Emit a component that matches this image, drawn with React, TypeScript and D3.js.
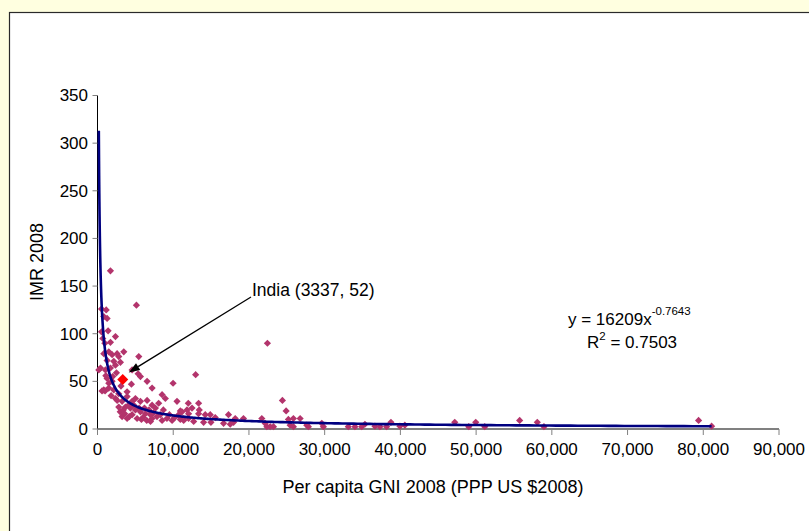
import React from "react";
import * as d3 from "d3";

const GNI = [
  175, 400, 530, 530, 830, 830, 830, 970, 1050, 1150, 1270, 1270, 1270, 1400, 1490, 1490, 1490,
  1710, 1710, 1710, 1930, 1930, 2150, 2150, 2370, 2370, 2370, 2590, 2810, 2810, 3030,
  600, 700, 1000, 1100, 1800, 2000, 2500, 2800, 3100,
  3250, 3250, 3470, 3690, 3910, 3910, 3910, 4350, 4480, 4570, 4570, 4570, 5010, 5010, 5140, 5230,
  5360, 5450, 5670, 5670, 5670, 6330, 6550, 6550, 6990, 7210, 7210, 7650, 8080, 8530, 8960, 9980,
  7210, 7860, 8530, 9170, 9850, 10500, 11160, 11820, 12480, 10720, 11380, 12030,
  2600, 3000, 3400, 3600, 4100, 4200, 4800, 5500, 5800, 6000, 6200, 6500, 6800, 7000, 7400, 8300, 8700, 9500, 10200,
  10940, 10940, 11380, 11990, 12030, 12700, 12960, 13350, 13350, 13440, 14010, 14230, 14890, 14980,
  15550, 16650, 17300, 17530, 17970, 18190, 19280, 21700, 22140, 22370, 22440, 22800, 23240,
  24420, 24910, 25210, 25440, 25870, 25870, 26760, 27640, 27850, 29620, 29830,
  33120, 34000, 34890, 35320, 36640, 37300, 38180, 38750, 39940, 40590,
  47180, 49030, 49950, 51140, 55750, 58080, 58960, 79380, 81100,
];

const IMR = [
  62, 64, 126, 102, 118, 79, 41, 90, 62, 125, 116, 72, 53, 103, 81, 48, 43,
  166, 91, 64, 78, 50, 71, 41, 97, 67, 32, 79, 76, 23, 70,
  40, 95, 40, 56, 35, 55, 59, 37, 45,
  29, 13, 81, 23, 39, 34, 11, 22, 47, 62, 29, 15, 32, 20, 130, 11,
  58, 76, 55, 29, 18, 16, 50, 30, 15, 43, 25, 22, 27, 36, 32, 48,
  11, 13, 9, 11, 9, 29, 18, 20, 22, 15, 11, 11,
  30, 18, 20, 16, 25, 13, 25, 22, 10, 12, 22, 9, 20, 8, 17, 15, 20, 15, 12,
  19, 10, 9, 27, 16, 8, 57, 27, 16, 20, 7, 15, 15, 7,
  12, 6, 15, 5, 7, 11, 11, 11, 6, 2.4, 90, 2.4, 2.4,
  30, 19, 10, 4, 11, 2.4, 11, 4, 2.4, 6, 2.4,
  2.4, 2.4, 2.4, 5, 3, 2.4, 2.4, 7, 3, 4,
  7, 2.4, 7, 2.4, 9, 7, 2.4, 9, 3,
];

const INDIA_GNI = 3337;
const INDIA_IMR = 52;
const INDIA_LABEL = "India (3337, 52)";

const TREND_A = 16209;
const TREND_B = -0.7643;
const TREND_R2 = 0.7503;

const X_TICKS = [0, 10000, 20000, 30000, 40000, 50000, 60000, 70000, 80000, 90000];
const Y_TICKS = [0, 50, 100, 150, 200, 250, 300, 350];

const X_TITLE = "Per capita GNI 2008 (PPP US $2008)";
const Y_TITLE = "IMR 2008";

const FONT = "'Liberation Sans', Arial, Helvetica, sans-serif";

export default function App() {
  const W = 809;
  const H = 531;
  const x = d3.scaleLinear().domain([0, 90000]).range([97.5, 779]);
  const y = d3.scaleLinear().domain([0, 350]).range([429, 95.5]);

  const xmin = d3.min(GNI) as number;
  const xmax = d3.max(GNI) as number;
  const trendXs = d3.range(0, 401).map((i) => xmin * Math.pow(xmax / xmin, i / 400));
  const line = d3
    .line<number>()
    .x((d) => x(d))
    .y((d) => y(TREND_A * Math.pow(d, TREND_B)));

  const diamond = (cx: number, cy: number, r: number) =>
    `M${cx},${cy - r}L${cx + r},${cy}L${cx},${cy + r}L${cx - r},${cy}Z`;

  const ix = x(INDIA_GNI);
  const iy = y(INDIA_IMR);

  // arrow
  const ax1 = 251, ay1 = 297;
  const ax2 = ix + 6, ay2 = iy - 7;
  const ang = Math.atan2(ay2 - ay1, ax2 - ax1);
  const hl = 11, hw = 4;
  const bx = ax2 - hl * Math.cos(ang);
  const by = ay2 - hl * Math.sin(ang);
  const head = `M${ax2},${ay2}L${bx + hw * Math.sin(ang)},${by - hw * Math.cos(ang)}L${bx - hw * Math.sin(ang)},${by + hw * Math.cos(ang)}Z`;

  return (
    <div style={{ position: "fixed", left: 0, top: 0 }}>
      <svg width={W} height={H} style={{ display: "block" }} fontFamily={FONT}>
        <rect x={0} y={0} width={W} height={H} fill="#FFFFE0" />
        <rect x={9.5} y={12.5} width={W + 10} height={H + 10} fill="#FFFFFF" stroke="#2a2a2a" strokeWidth={1.2} />

        {/* y axis */}
        <line x1={97.5} x2={97.5} y1={y(350)} y2={y(0)} stroke="#000" strokeWidth={1} />
        {Y_TICKS.map((t) => (
          <g key={"yt" + t}>
            <line x1={92.5} x2={97.5} y1={y(t)} y2={y(t)} stroke="#808080" strokeWidth={1} />
            <text x={88} y={y(t)} dy="0.35em" textAnchor="end" fontSize={17} fill="#000">
              {t}
            </text>
          </g>
        ))}

        {/* x axis */}
        <line x1={x(0)} x2={x(90000)} y1={429} y2={429} stroke="#808080" strokeWidth={2} />
        {X_TICKS.map((t) => (
          <g key={"xt" + t}>
            <line x1={x(t)} x2={x(t)} y1={429} y2={435} stroke="#808080" strokeWidth={1} />
            <text x={x(t)} y={455} textAnchor="middle" fontSize={17} fill="#000">
              {d3.format(",")(t)}
            </text>
          </g>
        ))}

        <text x={433} y={493} textAnchor="middle" fontSize={18} fill="#000">
          {X_TITLE}
        </text>
        <text
          transform={`translate(43,262) rotate(-90)`}
          textAnchor="middle"
          fontSize={18}
          fill="#000"
        >
          {Y_TITLE}
        </text>

        {/* points */}
        {GNI.map((g, i) => (
          <path key={"p" + i} d={diamond(x(g), y(IMR[i]), 3.6)} fill="#B3346C" />
        ))}

        {/* trend line */}
        <path d={line(trendXs) || ""} fill="none" stroke="#000080" strokeWidth={2.6} />

        {/* India */}
        <path d={diamond(ix, iy, 5.5)} fill="#FF0000" />
        <line x1={ax1} y1={ay1} x2={bx} y2={by} stroke="#000" strokeWidth={1.3} />
        <path d={head} fill="#000" />
        <text x={252} y={296} fontSize={17.5} fill="#000">
          {INDIA_LABEL}
        </text>

        {/* equation */}
        <text x={568} y={325} fontSize={17} fill="#000">
          {`y = ${TREND_A}x`}
          <tspan dy={-10} fontSize={11.5}>{`${TREND_B}`}</tspan>
        </text>
        <text x={587} y={348} fontSize={17} fill="#000">
          R<tspan dy={-8} fontSize={11.5}>2</tspan>
          <tspan dy={8}>{` = ${TREND_R2}`}</tspan>
        </text>
      </svg>
    </div>
  );
}
